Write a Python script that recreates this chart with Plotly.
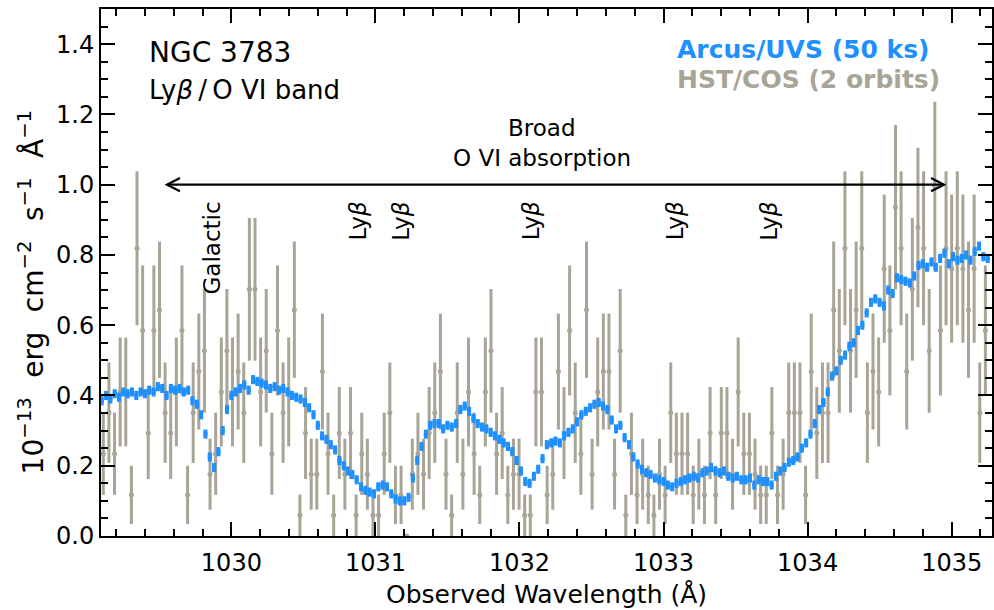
import plotly.graph_objects as go

# ---------------- Arcus/UVS simulated spectrum (0.03 A bins) ----------------
arcus_wave = [
    1029.10, 1029.13, 1029.16, 1029.19, 1029.22, 1029.25, 1029.28, 1029.31, 1029.34, 1029.37,
    1029.40, 1029.43, 1029.46, 1029.49, 1029.52, 1029.55, 1029.58, 1029.61, 1029.64, 1029.67,
    1029.70, 1029.73, 1029.76, 1029.79, 1029.82, 1029.85, 1029.88, 1029.91, 1029.94, 1029.97,
    1030.00, 1030.03, 1030.06, 1030.09, 1030.12, 1030.15, 1030.18, 1030.21, 1030.24, 1030.27,
    1030.30, 1030.33, 1030.36, 1030.39, 1030.42, 1030.45, 1030.48, 1030.51, 1030.54, 1030.57,
    1030.60, 1030.63, 1030.66, 1030.69, 1030.72, 1030.75, 1030.78, 1030.81, 1030.84, 1030.87,
    1030.90, 1030.93, 1030.96, 1030.99, 1031.02, 1031.05, 1031.08, 1031.11, 1031.14, 1031.17,
    1031.20, 1031.23, 1031.26, 1031.29, 1031.32, 1031.35, 1031.38, 1031.41, 1031.44, 1031.47,
    1031.50, 1031.53, 1031.56, 1031.59, 1031.62, 1031.65, 1031.68, 1031.71, 1031.74, 1031.77,
    1031.80, 1031.83, 1031.86, 1031.89, 1031.92, 1031.95, 1031.98, 1032.01, 1032.04, 1032.07,
    1032.10, 1032.13, 1032.16, 1032.19, 1032.22, 1032.25, 1032.28, 1032.31, 1032.34, 1032.37,
    1032.40, 1032.43, 1032.46, 1032.49, 1032.52, 1032.55, 1032.58, 1032.61, 1032.64, 1032.67,
    1032.70, 1032.73, 1032.76, 1032.79, 1032.82, 1032.85, 1032.88, 1032.91, 1032.94, 1032.97,
    1033.00, 1033.03, 1033.06, 1033.09, 1033.12, 1033.15, 1033.18, 1033.21, 1033.24, 1033.27,
    1033.30, 1033.33, 1033.36, 1033.39, 1033.42, 1033.45, 1033.48, 1033.51, 1033.54, 1033.57,
    1033.60, 1033.63, 1033.66, 1033.69, 1033.72, 1033.75, 1033.78, 1033.81, 1033.84, 1033.87,
    1033.90, 1033.93, 1033.96, 1033.99, 1034.02, 1034.05, 1034.08, 1034.11, 1034.14, 1034.17,
    1034.20, 1034.23, 1034.26, 1034.29, 1034.32, 1034.35, 1034.38, 1034.41, 1034.44, 1034.47,
    1034.50, 1034.53, 1034.56, 1034.59, 1034.62, 1034.65, 1034.68, 1034.71, 1034.74, 1034.77,
    1034.80, 1034.83, 1034.86, 1034.89, 1034.92, 1034.95, 1034.98, 1035.01, 1035.04, 1035.07,
    1035.10, 1035.13, 1035.16, 1035.19, 1035.22, 1035.25,
]
arcus_flux = [
    0.385, 0.400, 0.390, 0.405, 0.395, 0.410, 0.405, 0.410, 0.400, 0.410,
    0.405, 0.415, 0.410, 0.425, 0.420, 0.400, 0.420, 0.415, 0.420, 0.410,
    0.415, 0.385, 0.375, 0.345, 0.290, 0.225, 0.195, 0.240, 0.300, 0.360,
    0.400, 0.410, 0.420, 0.430, 0.415, 0.445, 0.440, 0.435, 0.430, 0.420,
    0.425, 0.415, 0.420, 0.410, 0.400, 0.395, 0.390, 0.380, 0.365, 0.345,
    0.315, 0.285, 0.275, 0.260, 0.245, 0.215, 0.200, 0.185, 0.175, 0.160,
    0.140, 0.130, 0.125, 0.120, 0.140, 0.145, 0.140, 0.120, 0.105, 0.100,
    0.100, 0.110, 0.165, 0.215, 0.255, 0.290, 0.315, 0.320, 0.320, 0.305,
    0.315, 0.310, 0.320, 0.360, 0.370, 0.355, 0.335, 0.320, 0.310, 0.305,
    0.295, 0.285, 0.275, 0.265, 0.255, 0.240, 0.215, 0.185, 0.155, 0.150,
    0.170, 0.190, 0.220, 0.260, 0.265, 0.270, 0.265, 0.285, 0.295, 0.305,
    0.325, 0.345, 0.355, 0.365, 0.375, 0.380, 0.370, 0.360, 0.330, 0.305,
    0.315, 0.280, 0.260, 0.225, 0.205, 0.190, 0.180, 0.175, 0.165, 0.160,
    0.155, 0.145, 0.140, 0.150, 0.155, 0.160, 0.165, 0.170, 0.165, 0.180,
    0.185, 0.195, 0.185, 0.180, 0.185, 0.170, 0.165, 0.170, 0.160, 0.160,
    0.165, 0.145, 0.160, 0.155, 0.155, 0.145, 0.170, 0.185, 0.195, 0.210,
    0.215, 0.225, 0.250, 0.265, 0.290, 0.320, 0.360, 0.380, 0.410, 0.455,
    0.470, 0.500, 0.515, 0.540, 0.550, 0.585, 0.600, 0.635, 0.665, 0.675,
    0.665, 0.655, 0.700, 0.690, 0.735, 0.730, 0.725, 0.720, 0.740, 0.770,
    0.775, 0.765, 0.780, 0.765, 0.790, 0.805, 0.775, 0.795, 0.785, 0.790,
    0.800, 0.785, 0.810, 0.825, 0.795, 0.790,
]
arcus_err = 0.013

# ---------------- HST/COS spectrum (2 orbits) ----------------
cos_wave = [
    1029.111, 1029.150, 1029.189, 1029.228, 1029.267, 1029.306, 1029.345, 1029.384, 1029.423, 1029.462,
    1029.501, 1029.540, 1029.579, 1029.618, 1029.657, 1029.696, 1029.735, 1029.774, 1029.813, 1029.852,
    1029.891, 1029.930, 1029.969, 1030.008, 1030.047, 1030.086, 1030.125, 1030.164, 1030.203, 1030.242,
    1030.281, 1030.320, 1030.359, 1030.398, 1030.437, 1030.476, 1030.515, 1030.554, 1030.593, 1030.632,
    1030.671, 1030.710, 1030.749, 1030.788, 1030.827, 1030.866, 1030.905, 1030.944, 1030.983, 1031.022,
    1031.061, 1031.100, 1031.139, 1031.178, 1031.217, 1031.256, 1031.295, 1031.334, 1031.373, 1031.412,
    1031.451, 1031.490, 1031.529, 1031.568, 1031.607, 1031.646, 1031.685, 1031.724, 1031.763, 1031.802,
    1031.841, 1031.880, 1031.919, 1031.958, 1031.997, 1032.036, 1032.075, 1032.114, 1032.153, 1032.192,
    1032.231, 1032.270, 1032.309, 1032.348, 1032.387, 1032.426, 1032.465, 1032.504, 1032.543, 1032.582,
    1032.621, 1032.660, 1032.699, 1032.738, 1032.777, 1032.816, 1032.855, 1032.894, 1032.933, 1032.972,
    1033.011, 1033.050, 1033.089, 1033.128, 1033.167, 1033.206, 1033.245, 1033.284, 1033.323, 1033.362,
    1033.401, 1033.440, 1033.479, 1033.518, 1033.557, 1033.596, 1033.635, 1033.674, 1033.713, 1033.752,
    1033.791, 1033.830, 1033.869, 1033.908, 1033.947, 1033.986, 1034.025, 1034.064, 1034.103, 1034.142,
    1034.181, 1034.220, 1034.259, 1034.298, 1034.337, 1034.376, 1034.415, 1034.454, 1034.493, 1034.532,
    1034.571, 1034.610, 1034.649, 1034.688, 1034.727, 1034.766, 1034.805, 1034.844, 1034.883, 1034.922,
    1034.961, 1035.000, 1035.039, 1035.078, 1035.117, 1035.156, 1035.195, 1035.234,
]
cos_flux = [
    0.234, 0.351, 0.234, 0.410, 0.410, 0.117, 0.819, 0.585, 0.293, 0.585,
    0.644, 0.351, 0.293, 0.410, 0.585, 0.117, 0.351, 0.468, 0.527, 0.176,
    0.234, 0.410, 0.527, 0.410, 0.468, 0.351, 0.702, 0.702, 0.410, 0.527,
    0.234, 0.585, 0.351, 0.410, 0.644, 0.059, 0.293, 0.176, 0.176, 0.468,
    0.234, 0.059, 0.293, 0.176, 0.293, 0.059, 0.234, 0.176, 0.059, 0.059,
    0.234, 0.351, 0.117, 0.117, 0.000, 0.176, 0.234, 0.176, 0.293, 0.351,
    0.468, 0.176, 0.059, 0.351, 0.176, 0.410, 0.234, 0.117, 0.410, 0.527,
    0.234, 0.293, 0.117, 0.176, 0.176, 0.059, 0.059, 0.410, 0.410, 0.117,
    0.176, 0.468, 0.293, 0.585, 0.351, 0.234, 0.644, 0.176, 0.410, 0.468,
    0.468, 0.176, 0.527, 0.059, 0.234, 0.117, 0.176, 0.117, 0.059, 0.176,
    0.117, 0.351, 0.234, 0.234, 0.234, 0.117, 0.176, 0.117, 0.293, 0.117,
    0.293, 0.293, 0.176, 0.410, 0.234, 0.234, 0.176, 0.117, 0.117, 0.293,
    0.117, 0.176, 0.351, 0.351, 0.351, 0.117, 0.468, 0.293, 0.351, 0.351,
    0.644, 0.527, 0.819, 0.527, 0.644, 0.819, 0.351, 0.468, 0.410, 0.761,
    0.585, 0.936, 0.819, 0.468, 0.702, 0.878, 0.819, 0.527, 0.995, 0.585,
    0.819, 0.761, 0.819, 0.761, 0.644, 0.761, 0.351, 0.585,
]
cos_err = [
    0.117, 0.143, 0.117, 0.155, 0.155, 0.083, 0.219, 0.185, 0.131, 0.185,
    0.194, 0.143, 0.131, 0.155, 0.185, 0.083, 0.143, 0.165, 0.176, 0.101,
    0.117, 0.155, 0.176, 0.155, 0.165, 0.143, 0.203, 0.203, 0.155, 0.176,
    0.117, 0.185, 0.143, 0.155, 0.194, 0.059, 0.131, 0.101, 0.101, 0.165,
    0.117, 0.059, 0.131, 0.101, 0.131, 0.059, 0.117, 0.101, 0.059, 0.059,
    0.117, 0.143, 0.083, 0.083, 0.000, 0.101, 0.117, 0.101, 0.131, 0.143,
    0.165, 0.101, 0.059, 0.143, 0.101, 0.155, 0.117, 0.083, 0.155, 0.176,
    0.117, 0.131, 0.083, 0.101, 0.101, 0.059, 0.059, 0.155, 0.155, 0.083,
    0.101, 0.165, 0.131, 0.185, 0.143, 0.117, 0.194, 0.101, 0.155, 0.165,
    0.165, 0.101, 0.176, 0.059, 0.117, 0.083, 0.101, 0.083, 0.059, 0.101,
    0.083, 0.143, 0.117, 0.117, 0.117, 0.083, 0.101, 0.083, 0.131, 0.083,
    0.131, 0.131, 0.101, 0.155, 0.117, 0.117, 0.101, 0.083, 0.083, 0.131,
    0.083, 0.101, 0.143, 0.143, 0.143, 0.083, 0.165, 0.131, 0.143, 0.143,
    0.194, 0.176, 0.219, 0.176, 0.194, 0.219, 0.143, 0.165, 0.155, 0.211,
    0.185, 0.234, 0.219, 0.165, 0.203, 0.227, 0.219, 0.176, 0.241, 0.185,
    0.219, 0.211, 0.219, 0.211, 0.194, 0.211, 0.143, 0.185,
]

# Absorption-line markers (wavelength, label)
line_wave = [1029.867, 1030.88, 1031.18, 1032.08, 1033.08, 1033.735]
line_text = ["Galactic", "Ly<i>β</i>", "Ly<i>β</i>", "Ly<i>β</i>", "Ly<i>β</i>", "Ly<i>β</i>"]

# Extent of the broad O VI trough
trough_start, trough_end, trough_level = 1029.553, 1034.947, 1.0

BLUE = "#1e90ff"
GREY = "#a8a496"
FONT = "DejaVu Sans"
SP = "\u2002\u2009"  # widened gap between the unit factors

fig = go.Figure()

fig.add_trace(go.Scatter(
    x=cos_wave, y=cos_flux, mode="markers",
    marker=dict(color=GREY, size=5, symbol="circle"),
    error_y=dict(type="data", array=cos_err, visible=True, color=GREY,
                 thickness=3, width=0),
    name="HST/COS (2 orbits)", hoverinfo="x+y",
))

fig.add_trace(go.Scatter(
    x=arcus_wave, y=arcus_flux, mode="markers",
    marker=dict(color=BLUE, size=4, symbol="square"),
    error_y=dict(type="constant", value=arcus_err, visible=True, color=BLUE,
                 thickness=4, width=0),
    name="Arcus/UVS (50 ks)", hoverinfo="x+y",
))

axis_common = dict(
    showline=True, linewidth=2, linecolor="black", mirror="allticks",
    ticks="inside", ticklen=14, tickwidth=2, tickcolor="black",
    showgrid=False, zeroline=False,
    tickfont=dict(family=FONT, size=24, color="black"),
)

fig.update_xaxes(
    range=[1029.095, 1035.28], tick0=1030, dtick=1, ticklabelstandoff=4,
    minor=dict(ticks="inside", ticklen=7, tickwidth=1.5, tickcolor="black",
               tick0=1030, dtick=0.2, showgrid=False),
    title=dict(text="Observed Wavelength (Å)", font=dict(family=FONT, size=25, color="black"),
               standoff=10),
    **axis_common,
)
fig.update_yaxes(
    range=[0, 1.5], tick0=0, dtick=0.2, tickformat=".1f",
    minor=dict(ticks="inside", ticklen=7, tickwidth=1.5, tickcolor="black",
               tick0=0, dtick=0.05, showgrid=False),
    **axis_common,
)

annotations = [
    dict(x=1029.413, y=1.376, text="NGC 3783", xanchor="left", yanchor="middle",
         font=dict(family=FONT, size=28, color="black")),
    dict(x=1029.413, y=1.27, text="Ly<i>β</i>\u2009/\u2009O VI band", xanchor="left",
         yanchor="middle", font=dict(family=FONT, size=26, color="black")),
    dict(x=1033.077, y=1.384, text="<b>Arcus/UVS (50 ks)</b>", xanchor="left",
         yanchor="middle", font=dict(family=FONT, size=25, color=BLUE)),
    dict(x=1033.077, y=1.298, text="<b>HST/COS (2 orbits)</b>", xanchor="left",
         yanchor="middle", font=dict(family=FONT, size=25, color=GREY)),
    dict(x=1032.159, y=1.162, text="Broad", xanchor="center", yanchor="middle",
         font=dict(family=FONT, size=23, color="black")),
    dict(x=1032.159, y=1.077, text="O VI absorption", xanchor="center", yanchor="middle",
         font=dict(family=FONT, size=23, color="black")),
]
for w, t in zip(line_wave, line_text):
    annotations.append(dict(x=w, y=0.957, text=t, textangle=-90, xanchor="center",
                            yanchor="top", font=dict(family=FONT, size=23, color="black")))
for a in annotations:
    a.update(xref="x", yref="y", showarrow=False)

# y-axis label placed as rotated paper-space text
annotations.append(dict(
    xref="paper", yref="paper", x=-0.077, y=0.463, xanchor="center", yanchor="middle",
    textangle=-90, showarrow=False,
    text=(f"10<sup>−13</sup>{SP}erg{SP}cm<sup>−2</sup>{SP}s<sup>−1</sup>{SP}Å<sup>−1</sup>"),
    font=dict(family=FONT, size=28, color="black"),
))

# double-headed arrow spanning the trough, with open chevron heads
head_dx, head_dy = 0.09, 0.019
shapes = [
    dict(type="line", x0=trough_start, x1=trough_end, y0=trough_level, y1=trough_level),
    dict(type="path", path=(f"M {trough_start + head_dx},{trough_level + head_dy} "
                            f"L {trough_start},{trough_level} "
                            f"L {trough_start + head_dx},{trough_level - head_dy}")),
    dict(type="path", path=(f"M {trough_end - head_dx},{trough_level + head_dy} "
                            f"L {trough_end},{trough_level} "
                            f"L {trough_end - head_dx},{trough_level - head_dy}")),
]
for s in shapes:
    s.update(xref="x", yref="y", line=dict(color="black", width=2.2))

fig.update_layout(
    width=994, height=610,
    margin=dict(l=101, r=0, t=9, b=74),
    paper_bgcolor="white", plot_bgcolor="white",
    showlegend=False,
    font=dict(family=FONT, size=24, color="black"),
    annotations=annotations, shapes=shapes,
)

fig.write_html("out.html")
